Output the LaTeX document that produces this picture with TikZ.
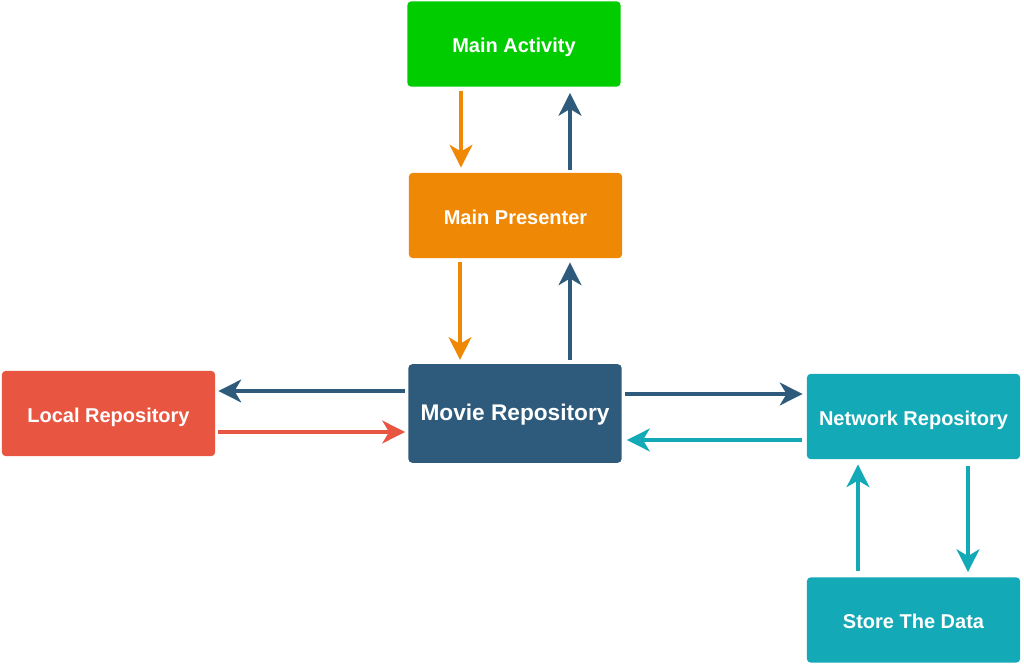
\documentclass[tikz,border=0pt]{standalone}
\usepackage{fontspec}
\setmainfont{Liberation Sans}
\usetikzlibrary{calc,arrows.meta}
\tikzset{>={Stealth[length=17pt,width=17pt,inset=5pt]}}
\definecolor{actgreen}{HTML}{00CC00}
\definecolor{presorange}{HTML}{EF8805}
\definecolor{moviblue}{HTML}{2E5B7B}
\definecolor{localred}{HTML}{E85641}
\definecolor{netteal}{HTML}{13A9B6}

\begin{document}
\begin{tikzpicture}[x=0.75pt,y=-0.75pt,
    box/.style={rounded corners=3pt, text=white, font=\bfseries\fontsize{15}{17}\selectfont,
      minimum width=160pt, minimum height=64pt, inner sep=0pt, text height=13pt, text depth=0pt},
    arr/.style={->, line width=3pt}]
  \useasboundingbox (0,0) rectangle (1024,666);
  \node[box, fill=actgreen] (act) at (514,44) {Main Activity};
  \node[box, fill=presorange] (pres) at (515.5,215.5) {Main Presenter};
  \node[box, fill=moviblue, minimum height=74pt, text height=10.8pt, font=\bfseries\fontsize{17}{20}\selectfont] (movie) at (515,413.5) {Movie Repository};
  \node[box, fill=localred] (local) at (108.5,413.5) {Local Repository};
  \node[box, fill=netteal] (net) at (913.5,416.5) {Network Repository};
  \node[box, fill=netteal] (store) at (913.5,620) {Store The Data};
  \draw[arr, presorange] ($(act.south)+(-53,4)$) -- ($(pres.north)+(-54.5,-5)$);
  \draw[arr, moviblue] ($(pres.north)+(54.5,-3)$) -- ($(act.south)+(56,6)$);
  \draw[arr, presorange] ($(pres.south)+(-55.5,4)$) -- ($(movie.north)+(-55,-4)$);
  \draw[arr, moviblue] ($(movie.north)+(55,-4)$) -- ($(pres.south)+(54.5,4)$);
  \draw[arr, moviblue] ($(movie.west)+(-3,-22.5)$) -- ($(local.east)+(3,-22.5)$);
  \draw[arr, localred] ($(local.east)+(3,18.5)$) -- ($(movie.west)+(-3,18.5)$);
  \draw[arr, moviblue] ($(movie.east)+(3,-19.5)$) -- ($(net.west)+(-4,-22.5)$);
  \draw[arr, netteal] ($(net.west)+(-5,23.5)$) -- ($(movie.east)+(5,26.5)$);
  \draw[arr, netteal] ($(store.north)+(-55.5,-6)$) -- ($(net.south)+(-55.5,5)$);
  \draw[arr, netteal] ($(net.south)+(54.5,7)$) -- ($(store.north)+(54.5,-5)$);
\end{tikzpicture}
\end{document}
